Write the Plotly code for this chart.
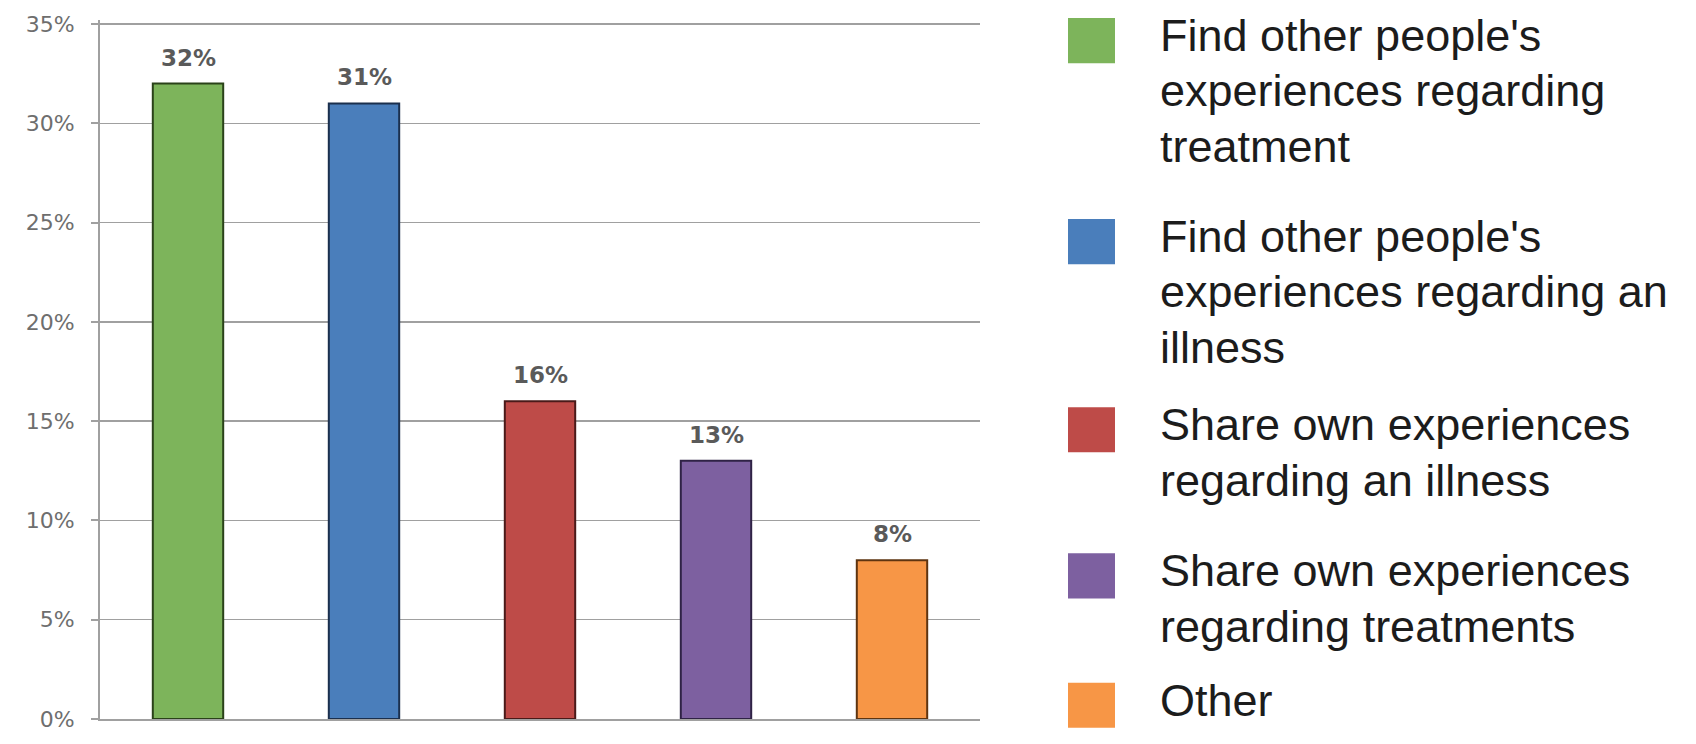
import plotly.graph_objects as go

# ---------------- data ----------------
categories = [
    "Find other people's experiences regarding treatment",
    "Find other people's experiences regarding an illness",
    "Share own experiences regarding an illness",
    "Share own experiences regarding treatments",
    "Other",
]
legend_lines = [
    ["Find other people's", "experiences regarding", "treatment"],
    ["Find other people's", "experiences regarding an", "illness"],
    ["Share own experiences", "regarding an illness"],
    ["Share own experiences", "regarding treatments"],
    ["Other"],
]
values = [32, 31, 16, 13, 8]
value_labels = ["32%", "31%", "16%", "13%", "8%"]
y_tick_values = [0, 5, 10, 15, 20, 25, 30, 35]
y_tick_labels = ["0%", "5%", "10%", "15%", "20%", "25%", "30%", "35%"]

# ---------------- styles ----------------
fill_colors = ["#7DB45B", "#4A7EBB", "#BE4B48", "#7D60A0", "#F79646"]
edge_colors = ["#2A4219", "#1B2F4D", "#4A1A19", "#2F2245", "#5E3410"]

W, H = 1696, 744
PL, PR, PB = 100, 980, 728          # plot area edges in pixels
PX_PER_UNIT = (728 - 19) / 35.0     # 35% gridline sits at pixel row 19
Y_TOP = 35.2                        # small headroom so the 35% gridline is drawn
PT = PB - Y_TOP * PX_PER_UNIT


def px_x(x):
    return (x - PL) / (PR - PL)


def px_y(y):
    return (PB - y) / (PB - PT)


fig = go.Figure()
fig.add_trace(go.Bar(
    x=categories,
    y=values,
    marker=dict(color=fill_colors, line=dict(color=edge_colors, width=2)),
    width=0.4,
    showlegend=False,
    hoverinfo="skip",
))

annotations = []
for c, v, t in zip(categories, values, value_labels):
    annotations.append(dict(
        x=c, y=v, xref="x", yref="y", text=t, showarrow=False,
        yanchor="bottom", yshift=11,
        font=dict(family="DejaVu Sans", size=23, color="#5A5A5A", weight="bold"),
    ))

# custom legend (large squares)
legend_tops = [13, 218, 410, 559, 691]
SQ_X0, SQ_X1, SQ = 1068, 1115, 46
TEXT_X = 1158
LINE_H = 56.5
FIRST_BASE = 34
FONT_SIZE = 45
shapes = []
for top, col, lines in zip(legend_tops, fill_colors, legend_lines):
    shapes.append(dict(
        type="rect", xref="paper", yref="paper",
        x0=px_x(SQ_X0), x1=px_x(SQ_X1), y0=px_y(top + SQ), y1=px_y(top),
        fillcolor=col, line=dict(width=0),
    ))
    for j, line in enumerate(lines):
        base = top + FIRST_BASE + j * LINE_H
        annotations.append(dict(
            x=px_x(TEXT_X), y=px_y(base - 0.36 * FONT_SIZE),
            xref="paper", yref="paper", xanchor="left", yanchor="middle",
            text=line, showarrow=False,
            font=dict(family="Liberation Sans", size=FONT_SIZE, color="#1C1C1C"),
        ))

fig.update_layout(
    width=W, height=H,
    margin=dict(l=PL, r=W - PR, t=PT, b=H - PB, pad=0),
    paper_bgcolor="white", plot_bgcolor="white",
    bargap=0.6,
    annotations=annotations,
    shapes=shapes,
    xaxis=dict(
        showticklabels=False, showgrid=False, ticks="",
        showline=True, linecolor="#A0A0A0", linewidth=2,
        zeroline=False,
    ),
    yaxis=dict(
        range=[0, Y_TOP], tickvals=y_tick_values, ticktext=y_tick_labels,
        showgrid=True, gridcolor="#A0A0A0", gridwidth=1.5,
        showline=True, linecolor="#A0A0A0", linewidth=2,
        ticks="outside", ticklen=7, tickcolor="#A0A0A0", tickwidth=2,
        ticklabelstandoff=12,
        zeroline=False,
        tickfont=dict(family="DejaVu Sans", size=22, color="#6E6E6E"),
    ),
    showlegend=False,
)

fig.write_html(
    "out.html",
    config={"displayModeBar": False, "staticPlot": True},
    post_script="document.body.style.margin='0';document.body.style.overflow='hidden';",
)
